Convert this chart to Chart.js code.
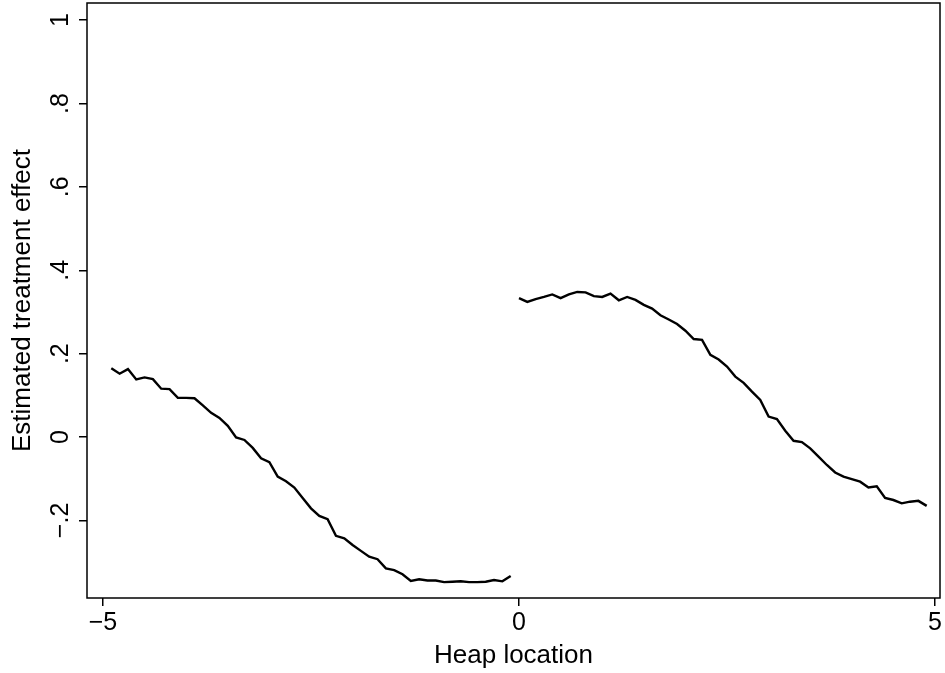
<!DOCTYPE html>
<html>
<head>
<meta charset="utf-8">
<script src="https://cdn.jsdelivr.net/npm/chart.js@4.4.1/dist/chart.umd.min.js"></script>
<style>
  html, body { margin: 0; padding: 0; background: #fff; }
</style>
</head>
<body>
<canvas id="chart" width="945" height="673"></canvas>
<script>
// heap location, left of the cutoff
const heapLeft = [-4.9, -4.8, -4.7, -4.6, -4.5, -4.4, -4.3, -4.2, -4.1, -4.0,
  -3.9, -3.8, -3.7, -3.6, -3.5, -3.4, -3.3, -3.2, -3.1, -3.0,
  -2.9, -2.8, -2.7, -2.6, -2.5, -2.4, -2.3, -2.2, -2.1, -2.0,
  -1.9, -1.8, -1.7, -1.6, -1.5, -1.4, -1.3, -1.2, -1.1, -1.0,
  -0.9, -0.8, -0.7, -0.6, -0.5, -0.4, -0.3, -0.2, -0.1];
const effectLeft = [0.165, 0.152, 0.163, 0.138, 0.143, 0.139, 0.116, 0.115, 0.094, 0.094,
  0.093, 0.076, 0.058, 0.046, 0.027, -0.001, -0.007, -0.026, -0.051, -0.060,
  -0.095, -0.106, -0.121, -0.146, -0.171, -0.189, -0.197, -0.237, -0.243, -0.259,
  -0.273, -0.287, -0.293, -0.315, -0.319, -0.329, -0.345, -0.341, -0.344, -0.344,
  -0.348, -0.347, -0.346, -0.348, -0.348, -0.347, -0.343, -0.346, -0.333];

// heap location, right of the cutoff
const heapRight = [0.0, 0.1, 0.2, 0.3, 0.4, 0.5, 0.6, 0.7, 0.8, 0.9,
  1.0, 1.1, 1.2, 1.3, 1.4, 1.5, 1.6, 1.7, 1.8, 1.9,
  2.0, 2.1, 2.2, 2.3, 2.4, 2.5, 2.6, 2.7, 2.8, 2.9,
  3.0, 3.1, 3.2, 3.3, 3.4, 3.5, 3.6, 3.7, 3.8, 3.9,
  4.0, 4.1, 4.2, 4.3, 4.4, 4.5, 4.6, 4.7, 4.8, 4.9];
const effectRight = [0.333, 0.324, 0.331, 0.336, 0.342, 0.333, 0.342, 0.348, 0.347, 0.338,
  0.336, 0.344, 0.328, 0.336, 0.329, 0.317, 0.308, 0.292, 0.282, 0.271,
  0.255, 0.235, 0.233, 0.197, 0.186, 0.169, 0.145, 0.130, 0.109, 0.089,
  0.049, 0.043, 0.015, -0.009, -0.012, -0.027, -0.047, -0.067, -0.085, -0.095,
  -0.101, -0.107, -0.121, -0.118, -0.146, -0.151, -0.159, -0.155, -0.153, -0.165];

const xTicks = [-5, 0, 5];
const xTickLabels = ["\u22125", "0", "5"];
const yTicks = [-0.2, 0, 0.2, 0.4, 0.6, 0.8, 1];
const yTickLabels = ["\u2212.2", "0", ".2", ".4", ".6", ".8", "1"];

const FONT = "'Liberation Sans', Arial, sans-serif";

function toPoints(xs, ys) {
  return xs.map((x, i) => ({ x: x, y: ys[i] }));
}

// box around the plot region
const frame = {
  id: "frame",
  afterDraw(chart) {
    const a = chart.chartArea;
    const ctx = chart.ctx;
    ctx.save();
    ctx.strokeStyle = "#000";
    ctx.lineWidth = 1.5;
    ctx.strokeRect(a.left, a.top, a.right - a.left, a.bottom - a.top);
    ctx.restore();
  }
};

const lineStyle = {
  borderColor: "#000",
  borderWidth: 2.4,
  pointRadius: 0,
  tension: 0,
  fill: false
};

new Chart(document.getElementById("chart"), {
  type: "line",
  data: {
    datasets: [
      Object.assign({ label: "left", data: toPoints(heapLeft, effectLeft) }, lineStyle),
      Object.assign({ label: "right", data: toPoints(heapRight, effectRight) }, lineStyle)
    ]
  },
  options: {
    responsive: false,
    animation: false,
    layout: { padding: { top: 3, right: 5, left: 0, bottom: 0 } },
    plugins: { legend: { display: false }, tooltip: { enabled: false } },
    scales: {
      x: {
        type: "linear",
        min: -5.192,
        max: 5.06,
        afterBuildTicks: s => { s.ticks = xTicks.map(v => ({ value: v })); },
        afterFit: s => {
          s.height = 75;
          s.paddingLeft = 0; s.paddingRight = 0;
        },
        grid: { display: true, drawOnChartArea: false, drawTicks: true, tickLength: 8, color: "#000", lineWidth: 1.5 },
        border: { display: false },
        ticks: {
          color: "#000",
          font: { family: FONT, size: 25 },
          padding: 2,
          maxRotation: 0,
          callback: v => xTickLabels[xTicks.indexOf(v)]
        },
        title: {
          display: true,
          text: "Heap location",
          color: "#000",
          font: { family: FONT, size: 26 },
          padding: { top: 0, bottom: 2 }
        }
      },
      y: {
        type: "linear",
        min: -0.386,
        max: 1.041,
        afterBuildTicks: s => { s.ticks = yTicks.map(v => ({ value: v })); },
        afterFit: s => {
          s.width = 87;
          s.paddingTop = 0; s.paddingBottom = 0;
        },
        grid: { display: true, drawOnChartArea: false, drawTicks: true, tickLength: 8, color: "#000", lineWidth: 1.5 },
        border: { display: false },
        ticks: {
          color: "#000",
          font: { family: FONT, size: 25 },
          minRotation: 90,
          maxRotation: 90,
          crossAlign: "center",
          padding: 0,
          callback: v => yTickLabels[yTicks.indexOf(v)]
        },
        title: {
          display: true,
          text: "Estimated treatment effect",
          color: "#000",
          font: { family: FONT, size: 26 },
          padding: { top: 7, bottom: 0 }
        }
      }
    }
  },
  plugins: [frame]
});
</script>
</body>
</html>
